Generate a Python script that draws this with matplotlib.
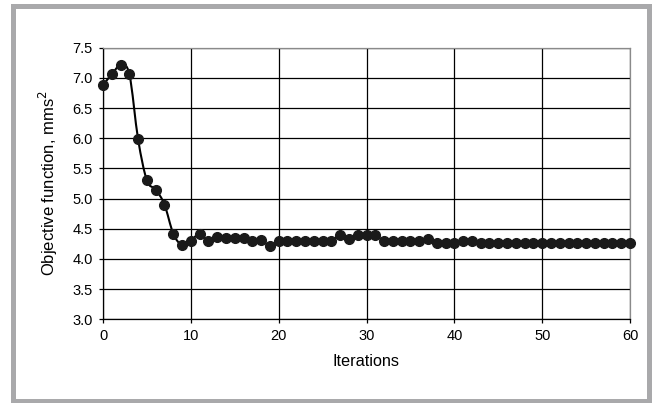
import numpy as np
import matplotlib
matplotlib.use('Agg')
import matplotlib.pyplot as plt
from matplotlib.path import Path
from matplotlib.patches import PathPatch, Rectangle

plt.rcParams['font.family'] = ['Liberation Sans', 'DejaVu Sans']
plt.rcParams['font.size'] = 10.5

# data
iterations = list(range(0, 61))
objective = [6.88, 7.06, 7.21, 7.06, 5.98, 5.30, 5.15, 4.90, 4.42, 4.23,
             4.30, 4.42, 4.29, 4.36, 4.34, 4.34, 4.34, 4.29, 4.31, 4.22,
             4.29, 4.30, 4.29, 4.29, 4.29, 4.29, 4.29, 4.40, 4.33, 4.40,
             4.40, 4.39, 4.30, 4.30, 4.30, 4.29, 4.29, 4.33, 4.27, 4.26,
             4.27, 4.29, 4.29, 4.27, 4.27, 4.27, 4.27, 4.27, 4.27, 4.27,
             4.27, 4.27, 4.27, 4.27, 4.27, 4.27, 4.27, 4.27, 4.27, 4.27,
             4.27]
xticks = [0, 10, 20, 30, 40, 50, 60]
yticks = [3.0, 3.5, 4.0, 4.5, 5.0, 5.5, 6.0, 6.5, 7.0, 7.5]

fig = plt.figure(figsize=(6.52, 4.03), dpi=100)
ax = fig.add_axes([103/652, 1 - 319.3/403, 527/652, 271.6/403])

# grey frame round the whole figure
fig.patches.append(Rectangle((13.5/652, 1 - 400.5/403), (649 - 13.5)/652, (400.5 - 5.8)/403,
                             transform=fig.transFigure, fill=False,
                             edgecolor='#a9a9ab', linewidth=3.6))

ax.set_xlim(0, 60)
ax.set_ylim(3.0, 7.5)
ax.set_xticks(xticks)
ax.set_yticks(yticks)
ax.set_yticklabels(['%.1f' % v for v in yticks])
ax.grid(True, color='black', linewidth=0.9)
ax.set_axisbelow(True)
ax.tick_params(direction='out', length=3, width=0.9, pad=4, labelsize=10.5, colors='black')
ax.tick_params(axis='y', pad=4.5)

for s in ['left', 'bottom']:
    ax.spines[s].set_color('black')
    ax.spines[s].set_linewidth(0.9)
for s in ['top', 'right']:
    ax.spines[s].set_color('#8a8a8a')
    ax.spines[s].set_linewidth(0.9)

# smoothed line through the points (cardinal spline as bezier path)
x = np.array(iterations, dtype=float)
y = np.array(objective)
k = 1/6
verts = [(x[0], y[0])]
codes = [Path.MOVETO]
for i in range(len(x) - 1):
    x0, y0 = (x[i-1], y[i-1]) if i > 0 else (x[i], y[i])
    x3, y3 = (x[i+2], y[i+2]) if i + 2 < len(x) else (x[i+1], y[i+1])
    c1 = (x[i] + (x[i+1] - x0)*k, y[i] + (y[i+1] - y0)*k)
    c2 = (x[i+1] - (x3 - x[i])*k, y[i+1] - (y3 - y[i])*k)
    verts += [c1, c2, (x[i+1], y[i+1])]
    codes += [Path.CURVE4]*3
ax.add_patch(PathPatch(Path(verts, codes), fill=False, edgecolor='black', linewidth=1.5, zorder=3))
ax.plot(x, y, linestyle='none', marker='o', markersize=7, color='#1a1a1a', zorder=4, clip_on=False)

ax.set_xlabel('Iterations', fontsize=11.7)
ax.set_ylabel('Objective function, mms$^2$', fontsize=12)
ax.xaxis.set_label_coords(0.5, -0.128)
ax.yaxis.set_label_coords(-0.082, 0.5)

fig.savefig('out.png', dpi=100)
